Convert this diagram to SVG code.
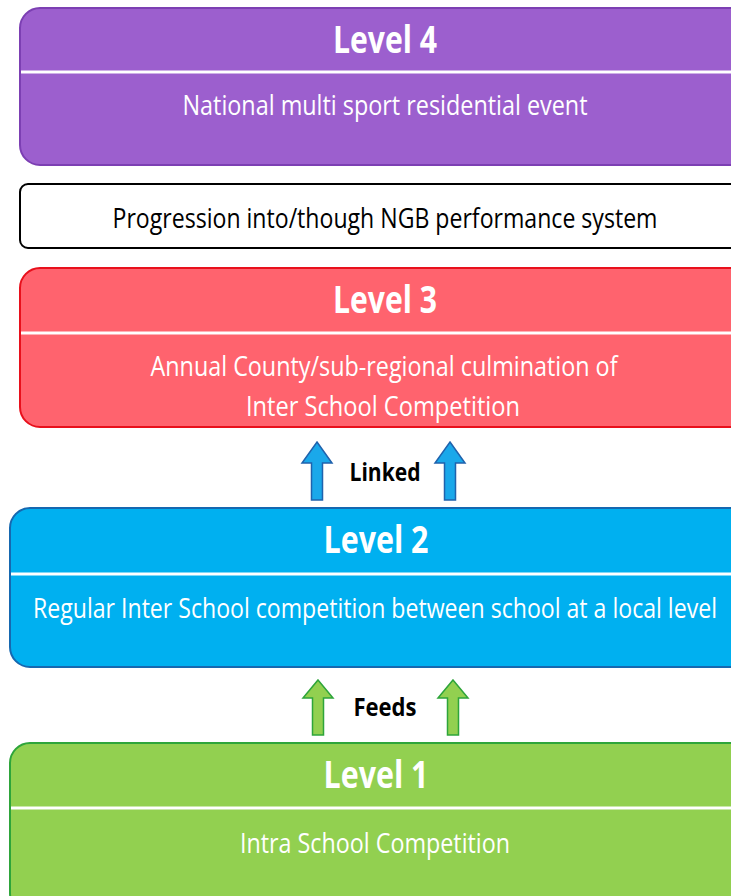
<svg xmlns="http://www.w3.org/2000/svg" width="731" height="896" viewBox="0 0 731 896">
<style>
.title{font-family:"Liberation Sans Narrow","Open Sans","Liberation Sans",sans-serif;font-weight:bold;font-size:37px;fill:#fff;text-anchor:middle}
.body{font-family:"Liberation Sans Narrow","Open Sans","Liberation Sans",sans-serif;font-size:28px;fill:#fff;text-anchor:middle}
.dark{font-family:"Liberation Sans Narrow","Open Sans","Liberation Sans",sans-serif;font-size:28px;fill:#000;text-anchor:middle}
.lab{font-family:"Liberation Sans Narrow","Open Sans","Liberation Sans",sans-serif;font-weight:bold;font-size:25px;fill:#000;text-anchor:middle}
.sep{stroke:#fff;stroke-width:3}
.blue{fill:#1aa8ea;stroke:#1f62ad;stroke-width:1.5}
.green{fill:#92d050;stroke:#2ea53a;stroke-width:1.5}
</style>
<rect width="731" height="896" fill="#fff"/>
<g id="level4">
<rect x="20" y="8" width="740" height="157" rx="20" fill="#9c5fce" stroke="#7c3fb3" stroke-width="2"/>
<line class="sep" x1="21" y1="72" x2="731" y2="72"/>
<text class="title" x="385" y="53" textLength="104" lengthAdjust="spacingAndGlyphs">Level 4</text>
<text class="body" x="385" y="115" textLength="405" lengthAdjust="spacingAndGlyphs">National multi sport residential event</text>
</g>
<g id="progression">
<rect x="20" y="184" width="730" height="64" rx="8" fill="#fff" stroke="#000" stroke-width="2"/>
<text class="dark" x="385" y="228" textLength="545" lengthAdjust="spacingAndGlyphs">Progression into/though NGB performance system</text>
</g>
<g id="level3">
<rect x="20" y="268" width="740" height="159" rx="20" fill="#ff636e" stroke="#e8101c" stroke-width="2"/>
<line class="sep" x1="21" y1="333" x2="731" y2="333"/>
<text class="title" x="385" y="313" textLength="104" lengthAdjust="spacingAndGlyphs">Level 3</text>
<text class="body" x="384" y="376" textLength="467" lengthAdjust="spacingAndGlyphs">Annual County/sub-regional culmination of</text>
<text class="body" x="383" y="416" textLength="274" lengthAdjust="spacingAndGlyphs">Inter School Competition</text>
</g>
<g id="level2">
<rect x="10" y="508" width="750" height="159" rx="20" fill="#00b0f0" stroke="#1668b0" stroke-width="2"/>
<line class="sep" x1="11" y1="574" x2="731" y2="574"/>
<text class="title" x="376" y="553" textLength="105" lengthAdjust="spacingAndGlyphs">Level 2</text>
<text class="body" x="375" y="618" textLength="684" lengthAdjust="spacingAndGlyphs">Regular Inter School competition between school at a local level</text>
</g>
<g id="level1">
<rect x="10" y="743" width="750" height="170" rx="20" fill="#92d050" stroke="#2ea53a" stroke-width="2"/>
<line class="sep" x1="11" y1="808" x2="731" y2="808"/>
<text class="title" x="376" y="788" textLength="105" lengthAdjust="spacingAndGlyphs">Level 1</text>
<text class="body" x="375" y="853" textLength="270" lengthAdjust="spacingAndGlyphs">Intra School Competition</text>
</g>
<g id="connectors">
<path class="blue" d="M317 442 L332 463 L322.5 463 L322.5 500 L311.5 500 L311.5 463 L302 463 Z"/>
<path class="blue" d="M450 442 L465 463 L455.5 463 L455.5 500 L444.5 500 L444.5 463 L435 463 Z"/>
<text class="lab" x="385" y="481" textLength="71" lengthAdjust="spacingAndGlyphs">Linked</text>
<path class="green" d="M318 680 L333 698 L323.5 698 L323.5 735 L312.5 735 L312.5 698 L303 698 Z"/>
<path class="green" d="M453 680 L468 698 L458.5 698 L458.5 735 L447.5 735 L447.5 698 L438 698 Z"/>
<text class="lab" x="385" y="716" textLength="63" lengthAdjust="spacingAndGlyphs">Feeds</text>
</g>
</svg>
